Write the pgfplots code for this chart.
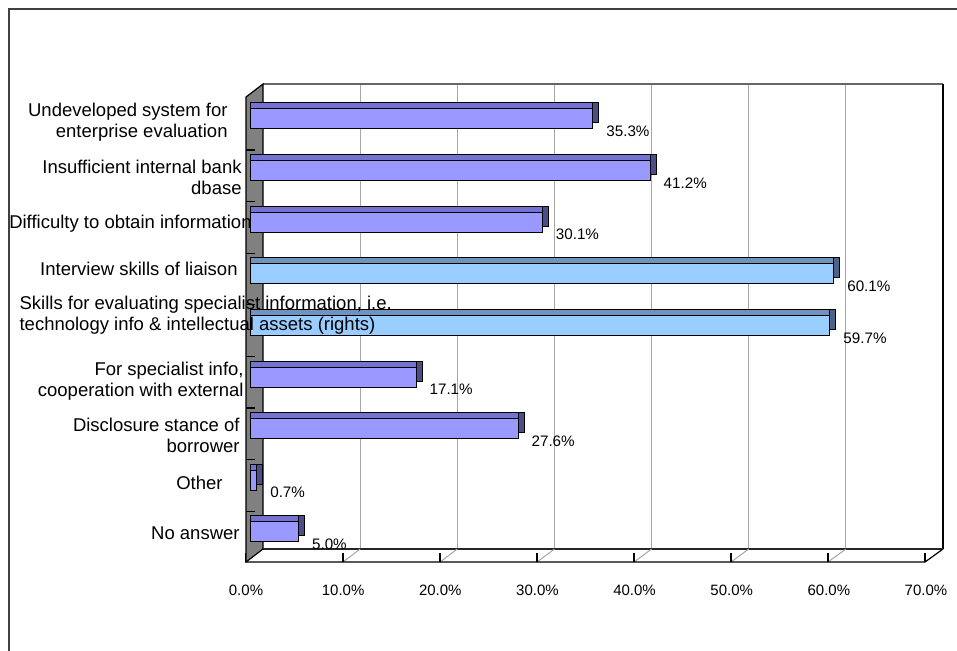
\documentclass[border=0pt]{standalone}
\usepackage{pgfplots}
\pgfplotsset{compat=1.18}
\usepackage{fontspec}
\setmainfont{Liberation Sans}
\definecolor{frontP}{HTML}{9999FF}
\definecolor{topP}{HTML}{7373D2}
\definecolor{sideP}{HTML}{4D4D88}
\definecolor{frontB}{HTML}{99CCFF}
\definecolor{topB}{HTML}{7092BE}
\definecolor{sideB}{HTML}{4A6488}
\definecolor{wallgray}{HTML}{808080}
\begin{document}
\begin{tikzpicture}
\begin{scope}[x=0.5pt,y=-0.5pt]
\useasboundingbox (0,0) rectangle (957,650);
\draw[line width=1pt,black!75] (9,651) -- (9,9) -- (958,9);
\foreach \i in {1,...,6} \draw[gray!70,line width=0.5pt] ({263+97.143*\i},84) -- ({263+97.143*\i},549);
\draw[gray!80!black,line width=0.7pt] (263,84) -- (943,84);
\draw[black,line width=0.6pt] (943,84) -- (943,549);
\draw[black!85,line width=1.2pt] (263,549) -- (943,549);
\foreach \i in {1,...,6} \draw[gray!70,line width=0.5pt] ({246+97*\i},562) -- ({263+97.143*\i},549);
\draw[black,line width=0.6pt] (246,562) -- (925,562) -- (943,549);
\foreach \i in {0,...,7} \draw[black,line width=0.6pt] ({246+97*\i},562) -- ++(0,-9);
\filldraw[fill=wallgray,draw=black,line width=0.6pt] (246,97) -- (263,84) -- (263,549) -- (246,562) -- cycle;
\foreach \j in {0,...,7} \draw[black,line width=0.6pt] (246,{150+51.6*\j}) -- ++(9,0);
\end{scope}
\begin{axis}[
  at={(125pt,-280.5pt)}, anchor=south west,
  scale only axis, width=340pt, height=232pt,
  xmin=0, xmax=70, ymin=-0.566, ymax=8.426,
  clip=false, set layers=axis on top,
  axis line style={draw=none}, tick style={draw=none}, major tick length=0pt,
  /pgf/number format/assume math mode=true,
  xtick={0,10,...,70},
  xticklabel={\pgfmathprintnumber[fixed,fixed zerofill,precision=1]{\tick}\%},
  xticklabel style={anchor=center, yshift=-14.5pt, xshift=-2pt, inner sep=0pt, font=\fontsize{7.5}{8.5}\selectfont},
  ytick={-0.023,0.946,1.818,2.903,4.182,5.093,5.965,6.817,7.922},
  yticklabels={
    {No answer\kern1pt},
    {Other\kern9.5pt},
    {\begin{tabular}{@{}r@{}}Disclosure stance of\\borrower\end{tabular}\kern1pt},
    {\begin{tabular}{@{}r@{}}For specialist info,\\cooperation with external\end{tabular}\kern-1pt},
    {\makebox[111pt][l]{\begin{tabular}{@{}l@{}}Skills for evaluating specialist information, i.e.\\technology info \& intellectual assets (rights)\end{tabular}}},
    {Interview skills of liaison\kern2pt},
    {Difficulty to obtain information\kern-5pt},
    {\begin{tabular}{@{}r@{}}Insufficient internal bank\\dbase\end{tabular}},
    {\begin{tabular}{@{}r@{}}Undeveloped system for\\enterprise evaluation\end{tabular}\kern7pt}
  },
  yticklabel style={anchor=east, inner sep=0pt, xshift=-4pt, font=\fontsize{9.25}{10.5}\selectfont},
  every axis plot/.append style={xbar, bar width=10pt, bar shift=0pt, draw=black, line width=0.5pt},
  point meta=x,
  nodes near coords style={anchor=west, inner sep=0pt, xshift=6.5pt, yshift=-6.25pt, font=\fontsize{7.6}{8.6}\selectfont, text=black},
]
% side faces
\addplot[fill=sideP, xshift=3pt, yshift=3pt] coordinates {(35.3,8) (41.2,7) (30.1,6) (17.1,3) (27.6,2) (0.7,1) (5.0,0)};
\addplot[fill=sideB, xshift=3pt, yshift=3pt] coordinates {(60.1,5) (59.7,4)};
% top faces
\addplot[fill=topP, yshift=3pt] coordinates {(35.3,8) (41.2,7) (30.1,6) (17.1,3) (27.6,2) (0.7,1) (5.0,0)};
\addplot[fill=topB, yshift=3pt] coordinates {(60.1,5) (59.7,4)};
% front faces
\addplot[fill=frontP, nodes near coords={\pgfmathprintnumber[fixed,fixed zerofill,precision=1]{\pgfplotspointmeta}\%}] coordinates {(35.3,8) (41.2,7) (30.1,6) (17.1,3) (27.6,2) (0.7,1) (5.0,0)};
\addplot[fill=frontB, nodes near coords={\pgfmathprintnumber[fixed,fixed zerofill,precision=1]{\pgfplotspointmeta}\%}] coordinates {(60.1,5) (59.7,4)};
\end{axis}
\end{tikzpicture}
\end{document}
